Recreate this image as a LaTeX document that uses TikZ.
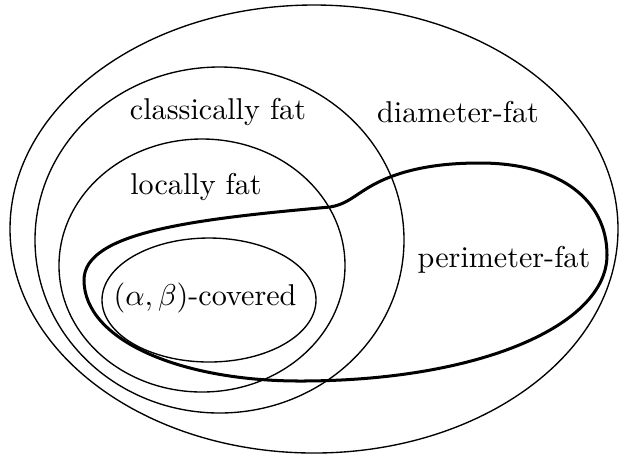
\documentclass[tikz,border=0pt]{standalone}
\begin{document}
\begin{tikzpicture}[x=0.332pt,y=-0.332pt,
  setline/.style={line width=0.45pt},
  pfat/.style={line width=1pt},
  lbl/.style={inner sep=0pt}]
\useasboundingbox (0,0) rectangle (619,455);
% sets
\draw[setline] (314,229) ellipse [x radius=304, y radius=224];
\draw[setline] (219.5,240) ellipse [x radius=184.5, y radius=173];
\draw[setline] (202,265.5) ellipse [x radius=143, y radius=126.5];
\draw[setline] (209,300) ellipse [x radius=107, y radius=62];
% perimeter-fat curve
\coordinate (L) at (84,280);
\coordinate (A) at (330,207);
\coordinate (M) at (405,172);
\coordinate (T) at (480,163);
\coordinate (R) at (607,255);
\coordinate (B) at (300,381);
\draw[pfat] (L) .. controls (84,232) and (195,219) .. (A)
  .. controls (355,203) and (360,185) .. (M)
  .. controls (430,165) and (455,163) .. (T)
  .. controls (560,163) and (607,200) .. (R)
  .. controls (607,325) and (480,381) .. (B)
  .. controls (180,381) and (84,340) .. (L) -- cycle;
% labels
\node[lbl] (cf) at (218,112) {classically fat};
\node[lbl] (df) at (458,112) {diameter-fat};
\node[lbl] (lf) at (196,187) {locally fat};
\node[lbl] (pf) at (504,260) {perimeter-fat};
\node[lbl] (ab) at (205,298) {$(\alpha,\beta)$-covered};
\end{tikzpicture}
\end{document}
